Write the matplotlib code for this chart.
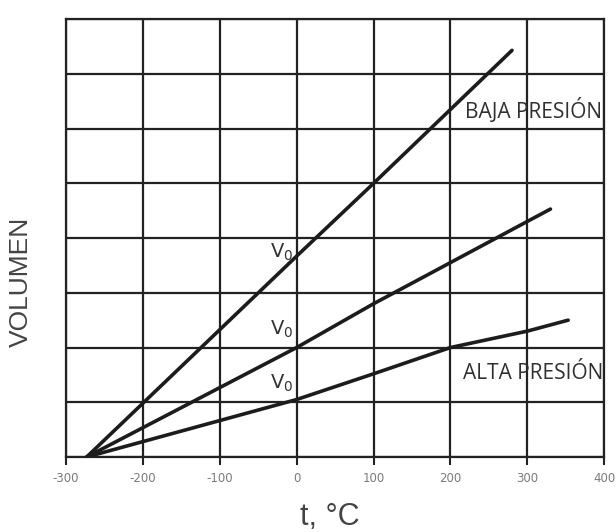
import matplotlib
matplotlib.use("Agg")
import matplotlib.pyplot as plt

# Temperature (°C) and volume points for each isobar
t_baja = [-273, 0, 100, 280]
v_baja = [0, 3.67, 5.0, 7.43]

t_media = [-273, 0, 100, 330]
v_media = [0, 2.0, 2.8, 4.53]

t_alta = [-273, 0, 100, 200, 300, 353]
v_alta = [0, 1.05, 1.52, 2.0, 2.3, 2.5]

x_ticks = [-300, -200, -100, 0, 100, 200, 300, 400]
y_grid = [0, 1, 2, 3, 4, 5, 6, 7, 8]

W, H = 616, 532
fig = plt.figure(figsize=(W / 100, H / 100), dpi=100)
ax = fig.add_axes([0.107, 0.141, 0.874, 0.823])

line_kw = dict(color="#1c1c1c", lw=2.6, solid_capstyle="round", zorder=3)
ax.plot(t_baja, v_baja, **line_kw)
ax.plot(t_media, v_media, **line_kw)
ax.plot(t_alta, v_alta, **line_kw)

ax.set_xlim(-300, 400)
ax.set_ylim(0, 8)
ax.set_xticks(x_ticks)
ax.set_xticklabels([str(v) for v in x_ticks], color="#7a7a7a", fontsize=8.5,
                   family="DejaVu Sans")
ax.set_yticks(y_grid)
ax.set_yticklabels([])
ax.tick_params(axis="y", length=0)
ax.tick_params(axis="x", length=6, width=1.5, color="#222222", pad=5)
ax.grid(True, color="#222222", lw=1.6, zorder=1)
for s in ax.spines.values():
    s.set_color("#222222")
    s.set_linewidth(1.6)

# V0 labels at the 0 °C intercepts
v0_kw = dict(ha="right", va="center", fontsize=14, color="#333333", family="DejaVu Sans")
ax.text(-4, 3.74, r"V$_\mathregular{0}$", **v0_kw)
ax.text(-4, 2.34, r"V$_\mathregular{0}$", **v0_kw)
ax.text(-5, 1.35, r"V$_\mathregular{0}$", **v0_kw)

lab_kw = dict(ha="left", va="center", fontsize=15, color="#303030", family="Open Sans")
ax.text(219, 6.34, "BAJA PRESIÓN", **lab_kw)
ax.text(216, 1.53, "ALTA PRESIÓN", **lab_kw)

# Axis titles
fig.text(330 / W, 1 - 525 / H, "t, °C", ha="center", va="baseline", fontsize=22,
         color="#444444", family="Liberation Sans")
fig.text(21 / W, 1 - 282 / H, "VOLUMEN", ha="center", va="center", rotation=90,
         fontsize=19, color="#444444", family="Liberation Sans")

fig.savefig("out.png", dpi=100)
